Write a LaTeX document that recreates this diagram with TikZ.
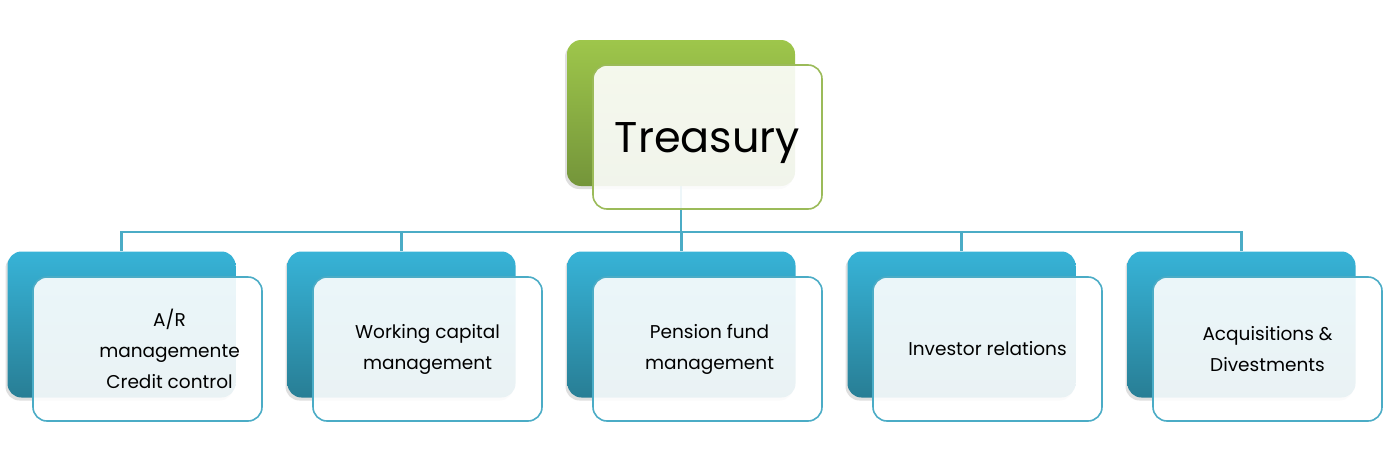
\documentclass[tikz,border=0pt]{standalone}
\usepackage{fontspec}
\setmainfont{Poppins}
\usetikzlibrary{shadows}
\pgfdeclarelayer{background}
\pgfsetlayers{background,main}
\definecolor{gtop}{HTML}{9EC64B}
\definecolor{gbot}{HTML}{74953A}
\definecolor{gline}{HTML}{9BBB59}
\definecolor{btop}{HTML}{37B3D7}
\definecolor{bbot}{HTML}{287E95}
\definecolor{bline}{HTML}{4BACC6}
\tikzset{
  backbox/.style={rectangle, rounded corners=14pt, minimum width=228pt, minimum height=146pt, inner sep=0pt,
    drop shadow={opacity=0.25, shadow xshift=-2pt, shadow yshift=-3pt}},
  greenback/.style={backbox, top color=gtop, bottom color=gbot},
  blueback/.style={backbox, top color=btop, bottom color=bbot},
  frontbox/.style={rectangle, rounded corners=14pt, minimum width=229pt, minimum height=144pt, inner sep=0pt,
    fill=white, fill opacity=0.9, text opacity=1, line width=1.6pt, align=center},
  greenfront/.style={frontbox, draw=gline},
  bluefront/.style={frontbox, draw=bline},
  bluetext/.style={align=center, font=\fontsize{18.5}{31}\selectfont},
  conn/.style={draw=bline, line width=2.3pt}
}
\begin{document}
\begin{tikzpicture}[x=1pt,y=-1pt]
\useasboundingbox (0,0) rectangle (1383,463);
% top
\node[greenback] (tb) at (681,113) {};
\node[greenfront] (tf) at (707.5,137) {};
\node[font=\fontsize{43}{50}\selectfont] (tt) at (707.5,143) {Treasury};
% bottom
\foreach \i/\txt/\dx in {0/{A/R\\managemente\\Credit control}/22, 1/{Working capital\\management}/0, 2/{Pension fund\\management}/2, 3/{Investor relations}/0, 4/{Acquisitions \&\\Divestments}/0} {
  \node[blueback] (b\i) at (121.5+280*\i,324.5) {};
  \node[bluefront] (f\i) at (147.5+280*\i,349) {};
  \node[bluetext] (t\i) at (147.5+280*\i+\dx,349) {\txt};
}
\coordinate (hub) at (681,232);
\begin{pgfonlayer}{background}
\draw[conn] (tb.south) -- (hub);
\foreach \i in {0,...,4} {
  \draw[conn] (hub) -| (b\i.north);
}
\end{pgfonlayer}
\end{tikzpicture}
\end{document}
